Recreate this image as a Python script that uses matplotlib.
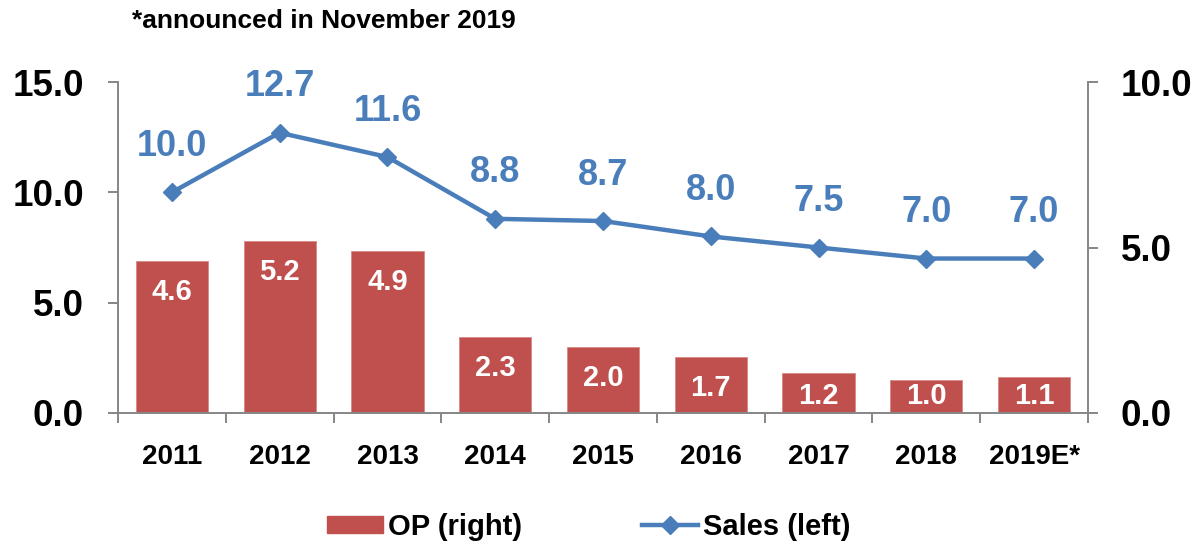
import matplotlib

matplotlib.use("Agg")
import matplotlib.pyplot as plt  # noqa: E402
import numpy as np  # noqa: E402
from matplotlib.lines import Line2D  # noqa: E402
from matplotlib.patches import Patch  # noqa: E402

plt.rcParams["font.family"] = ["Liberation Sans", "DejaVu Sans"]
plt.rcParams["font.weight"] = "bold"

years = ["2011", "2012", "2013", "2014", "2015", "2016", "2017", "2018", "2019E*"]
sales = [10.0, 12.7, 11.6, 8.8, 8.7, 8.0, 7.5, 7.0, 7.0]   # left axis
op = [4.6, 5.2, 4.9, 2.3, 2.0, 1.7, 1.2, 1.0, 1.1]         # right axis

RED = "#C0504D"
BLUE = "#4A7EBB"
GRAY = "#868686"

W, H = 1192, 542
fig = plt.figure(figsize=(W / 100, H / 100), dpi=100)
ax = fig.add_axes([118 / W, 1 - 413 / H, (1088 - 118) / W, (413 - 82) / H])
ax2 = ax.twinx()

x = np.arange(len(years))

# bars (OP) on the right axis
ax2.bar(x, op, width=0.67, color=RED, edgecolor="#D98A88", linewidth=0.6, zorder=2)
ax2.set_ylim(0, 10)
for xi, v in zip(x, op):
    ax2.text(xi, max(v - 0.94, 0.5), f"{v:.1f}", ha="center", va="center",
             color="white", fontsize=21, fontweight="bold", zorder=3)

# line (Sales) on the left axis, drawn above the bars
ax.set_zorder(ax2.get_zorder() + 1)
ax.patch.set_visible(False)
ax.plot(x, sales, color=BLUE, lw=3.2, marker="D", ms=9, zorder=4)
for xi, v in zip(x, sales):
    ax.annotate(f"{v:.1f}", (xi, v), textcoords="offset points", xytext=(0, 33),
                ha="center", va="center", color=BLUE, fontsize=26, fontweight="bold")
ax.set_ylim(0, 15)
ax.set_xlim(-0.5, len(years) - 0.5)

# axes styling
for a in (ax, ax2):
    a.spines["top"].set_visible(False)
    for s in ("left", "right", "bottom"):
        a.spines[s].set_color(GRAY)
        a.spines[s].set_linewidth(1.4)
ax.spines["right"].set_visible(False)
ax2.spines["left"].set_visible(False)
ax2.spines["bottom"].set_visible(False)

ax.set_yticks([0, 5, 10, 15])
ax.set_yticklabels(["0.0", "5.0", "10.0", "15.0"])
ax2.set_yticks([0, 5, 10])
ax2.set_yticklabels(["0.0", "5.0", "10.0"])
ax.tick_params(axis="y", length=7.5, width=1.4, color=GRAY, pad=17, labelsize=26.5)
ax2.tick_params(axis="y", length=7.5, width=1.4, color=GRAY, pad=16, labelsize=26.5)

# category labels at centres, tick marks at boundaries
ax.set_xticks(x)
ax.set_xticklabels(years)
ax.set_xticks(np.arange(-0.5, len(years)), minor=True)
ax.tick_params(axis="x", which="major", length=0, pad=22, labelsize=20)
ax.tick_params(axis="x", which="minor", length=7, width=1.4, color=GRAY)
for lbl in ax.get_xticklabels() + ax.get_yticklabels() + ax2.get_yticklabels():
    lbl.set_fontweight("bold")

fig.text(132 / W, 1 - 28 / H, "*announced in November 2019", fontsize=19,
         fontweight="bold", ha="left", va="baseline")

handles = [
    Patch(facecolor=RED, edgecolor=RED),
    Line2D([], [], color=BLUE, lw=3.2, marker="D", ms=9),
]
fig.legend(handles, ["OP (right)", "Sales (left)"], loc="center",
           bbox_to_anchor=(589 / W, 1 - 527 / H), ncol=2, frameon=False,
           prop={"size": 21, "weight": "bold"}, handlelength=1.9,
           handleheight=0.55, handletextpad=0.2, columnspacing=4.1)

fig.savefig("out.png", dpi=100)
